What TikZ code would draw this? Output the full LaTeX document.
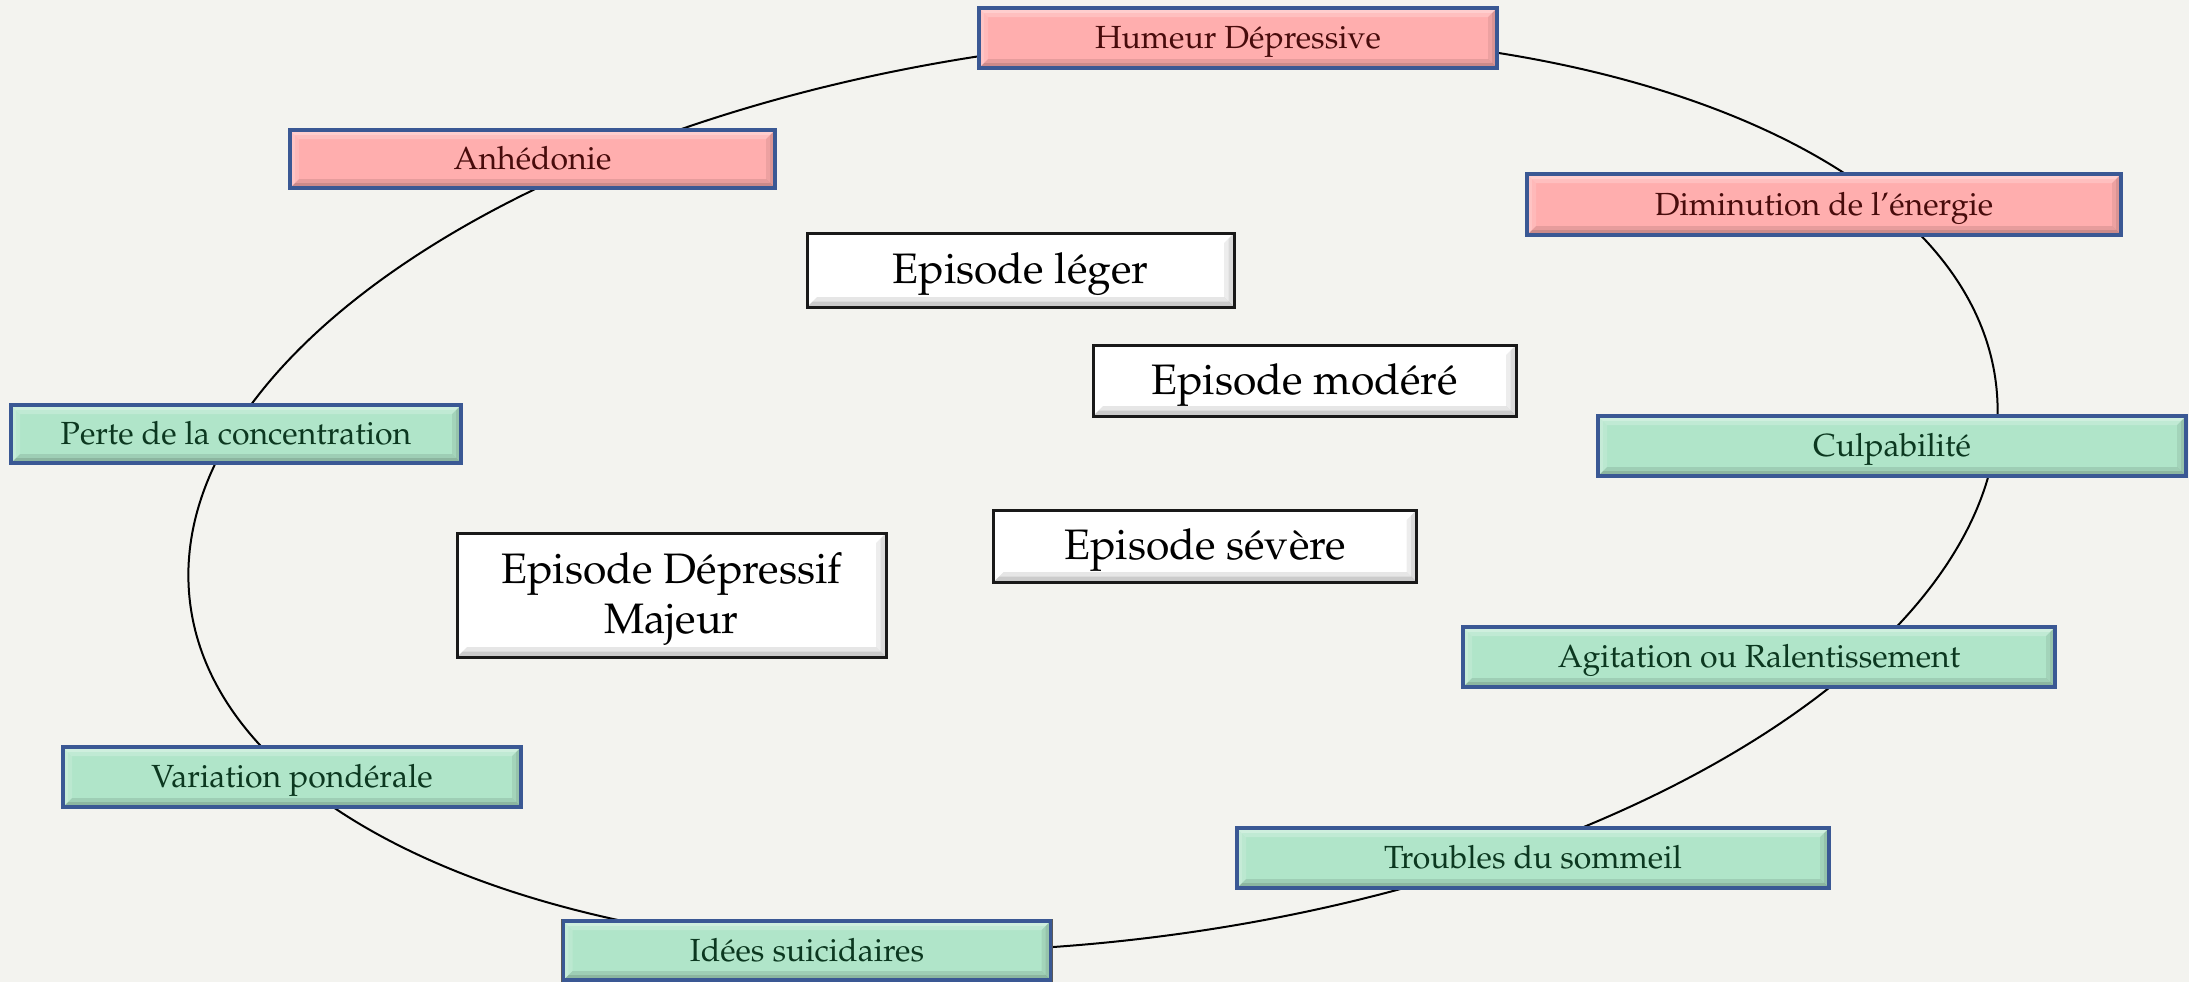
\documentclass[tikz,border=0pt]{standalone}
\usepackage[T1]{fontenc}
\renewcommand{\rmdefault}{ppl}
\definecolor{bg}{RGB}{243,243,239}
\definecolor{pinkfill}{RGB}{255,174,174}
\definecolor{greenfill}{RGB}{176,229,201}
\definecolor{rimblue}{RGB}{58,88,148}
\definecolor{pinktext}{RGB}{72,12,12}
\definecolor{greentext}{RGB}{12,56,32}
\definecolor{darkrim}{RGB}{25,25,25}
\tikzset{
  % bevelled edges: light on top/left, darker on bottom/right, mitred corners
  bevelband/.style={path picture={
    \coordinate (pSW) at (path picture bounding box.south west);
    \coordinate (pSE) at (path picture bounding box.south east);
    \coordinate (pNW) at (path picture bounding box.north west);
    \coordinate (pNE) at (path picture bounding box.north east);
    \foreach \d/\o in {#1/0.07, {#1*0.55}/0.08}{
      \fill[white,opacity=\o*3] (pNW) -- (pNE) -- ([shift={(-\d pt,-\d pt)}]pNE) -- ([shift={(\d pt,-\d pt)}]pNW) -- cycle;
      \fill[white,opacity=\o*2] (pNW) -- (pSW) -- ([shift={(\d pt,\d pt)}]pSW) -- ([shift={(\d pt,-\d pt)}]pNW) -- cycle;
      \fill[black,opacity=\o*1.4] (pSW) -- (pSE) -- ([shift={(-\d pt,\d pt)}]pSE) -- ([shift={(\d pt,\d pt)}]pSW) -- cycle;
      \fill[black,opacity=\o] (pSE) -- (pNE) -- ([shift={(-\d pt,-\d pt)}]pNE) -- ([shift={(-\d pt,\d pt)}]pSE) -- cycle;
    }
  }},
  symptom/.style={draw=rimblue, line width=1.8pt, inner sep=0pt, align=center,
    preaction={draw=black!65, line width=2.4pt},
    font=\fontsize{16}{19}\selectfont, text height=11.5pt, text depth=1pt, bevelband=4.5},
  core/.style={symptom, fill=pinkfill, text=pinktext},
  other/.style={symptom, fill=greenfill, text=greentext},
  episode/.style={draw=darkrim, line width=1.5pt, fill=white, inner sep=0pt, align=center,
    font=\fontsize{21.3}{25}\selectfont, bevelband=5},
  oneline/.style={text height=14.5pt, text depth=1pt},
  ring/.style={draw=black, line width=1pt}
}
\begin{document}
\begin{tikzpicture}[x=0.5pt,y=0.5pt]
  % canvas
  \fill[bg] (0,0) rectangle (2189,-982);
  \useasboundingbox (0,0) rectangle (2189,-982);

  % the cycle that links the symptoms
  \begin{scope}[shift={(1093,-493)}, rotate=6.9]
    \draw[ring] (0,0) ellipse [x radius=454.8pt, y radius=224.15pt];
  \end{scope}

  % core symptoms
  \node[core, minimum width=259pt, minimum height=30pt] (hum) at (1238,-38) {Humeur D\'epressive};
  \node[core, minimum width=242.5pt, minimum height=29pt] (anh) at (532.5,-159) {Anh\'edonie};
  \node[core, minimum width=297pt, minimum height=30.5pt] (dim) at (1824,-204.5) {Diminution de l'\'energie};

  % associated symptoms
  \node[other, minimum width=225pt, minimum height=29pt] (perte) at (236,-434) {Perte de la concentration};
  \node[other, minimum width=294pt, minimum height=30pt] (culp) at (1892,-446) {Culpabilit\'e};
  \node[other, minimum width=296pt, minimum height=30pt] (agit) at (1759,-657) {Agitation ou Ralentissement};
  \node[other, minimum width=296pt, minimum height=30pt] (troub) at (1533,-858) {Troubles du sommeil};
  \node[other, minimum width=243.5pt, minimum height=29.5pt] (idees) at (807,-950.5) {Id\'ees suicidaires};
  \node[other, minimum width=229pt, minimum height=30pt] (var) at (292,-777) {Variation pond\'erale};

  % severity levels
  \node[episode, oneline, minimum width=213.5pt, minimum height=37pt] (leger) at (1020.5,-270) {Episode l\'eger};
  \node[episode, oneline, minimum width=211.5pt, minimum height=35.5pt] (modere) at (1304.5,-380.5) {Episode mod\'er\'e};
  \node[episode, oneline, minimum width=211.5pt, minimum height=36pt] (severe) at (1205,-546) {Episode s\'ev\`ere};
  \node[episode, minimum width=214.5pt, minimum height=62pt] (edm) at (671.5,-595)
    {\raisebox{-1.5pt}[\height][\depth]{\begin{tabular}{@{}c@{}}Episode D\'epressif\\Majeur\end{tabular}}};
\end{tikzpicture}
\end{document}
